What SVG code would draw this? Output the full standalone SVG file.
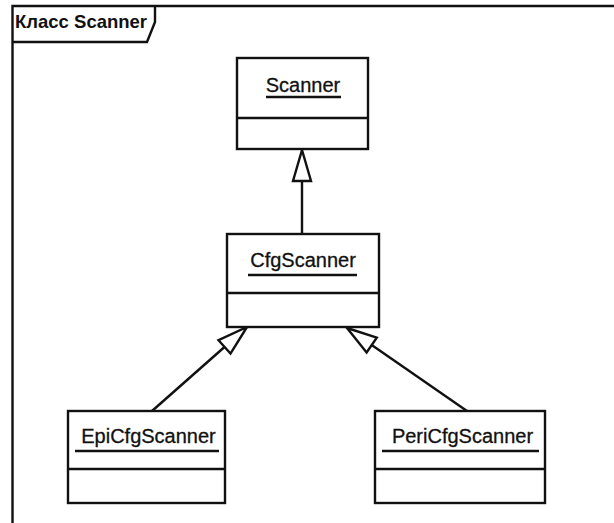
<svg xmlns="http://www.w3.org/2000/svg" width="614" height="523" viewBox="0 0 614 523">
<style>
.s{fill:none;stroke:#111;stroke-width:2.4}
.b{fill:#fff;stroke:#111;stroke-width:2.4}
.t{font-family:"Liberation Sans",Arial,sans-serif;font-size:20px;fill:#111;stroke:#111;stroke-width:0.3;text-anchor:middle}
.h{font-family:"Liberation Sans",Arial,sans-serif;font-size:18.5px;font-weight:bold;fill:#111}
</style>
<rect width="614" height="523" fill="#fff"/>
<g id="frame">
<path class="s" d="M614,6 H12.5 V523"/>
<path class="s" d="M12.5,42 H147 L155,22 V6"/>
<text class="h" x="15" y="28">Класс Scanner</text>
</g>
<g id="connectors">
<line class="s" x1="302" y1="181" x2="302" y2="234"/>
<polygon class="b" points="302,150 293,181 311,181"/>
<line class="s" x1="152" y1="411" x2="224.5" y2="347"/>
<polygon class="b" points="247,327 230.5,353.6 218.5,340.2"/>
<line class="s" x1="467" y1="411" x2="371.7" y2="345.1"/>
<polygon class="b" points="347,328 366.6,352.5 376.8,337.7"/>
</g>
<g id="Scanner">
<rect class="b" x="237" y="58" width="131" height="91"/>
<line class="s" x1="237" y1="118" x2="368" y2="118"/>
<text class="t" x="303" y="92">Scanner</text>
<line class="s" x1="266" y1="97" x2="341" y2="97"/>
</g>
<g id="CfgScanner">
<rect class="b" x="227" y="234" width="152" height="93"/>
<line class="s" x1="227" y1="293" x2="379" y2="293"/>
<text class="t" x="303" y="267">CfgScanner</text>
<line class="s" x1="248" y1="275" x2="357" y2="275"/>
</g>
<g id="EpiCfgScanner">
<rect class="b" x="68" y="411" width="157" height="92"/>
<line class="s" x1="68" y1="469" x2="225" y2="469"/>
<text class="t" x="148.5" y="443">EpiCfgScanner</text>
<line class="s" x1="75" y1="451" x2="219" y2="451"/>
</g>
<g id="PeriCfgScanner">
<rect class="b" x="375" y="411" width="170" height="92"/>
<line class="s" x1="375" y1="469" x2="545" y2="469"/>
<text class="t" x="462.5" y="443">PeriCfgScanner</text>
<line class="s" x1="382" y1="451" x2="539" y2="451"/>
</g>
</svg>
